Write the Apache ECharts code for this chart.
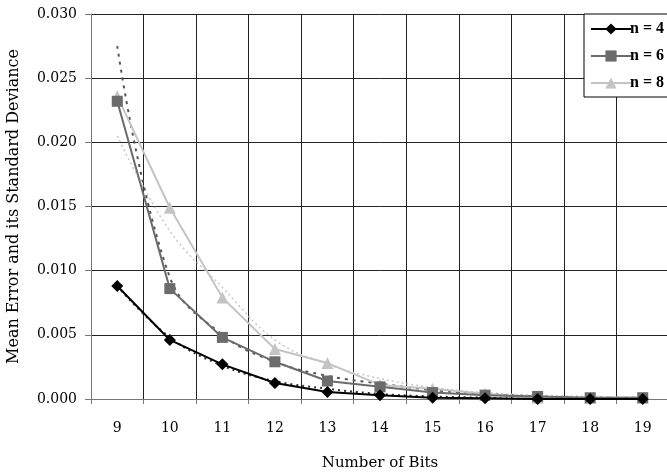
<!DOCTYPE html>
<html>
<head>
<meta charset="utf-8">
<script src="https://cdn.jsdelivr.net/npm/echarts@6/dist/echarts.min.js"></script>
<style>
  html, body { margin: 0; padding: 0; background: #fff; }
  #chart { width: 667px; height: 473px; }
</style>
</head>
<body>
<div id="chart"></div>
<script>
// number of bits on the x axis
const bits = ['9', '10', '11', '12', '13', '14', '15', '16', '17', '18', '19'];

// measured mean error per n
const n4 = [0.0088, 0.0046, 0.0027, 0.00125, 0.00055, 0.0003, 0.0001, 0.00005, 0, 0, 0];
const n6 = [0.0232, 0.0086, 0.0048, 0.0029, 0.0014, 0.00095, 0.0005, 0.0003, 0.0002, 0.0001, 0.0001];
const n8 = [0.0236, 0.0149, 0.0079, 0.0039, 0.0028, 0.0011, 0.0008, 0.0004, 0.0001, 0.0001, 0.0001];

// trend (dotted) lines
const trend4 = [0.0088, 0.0048, 0.0026, 0.0014, 0.0008, 0.0004, 0.0002, 0.0001, 0, 0, 0];
const trend6 = [0.0275, 0.0095, 0.0050, 0.0029, 0.0018, 0.0012, 0.0007, 0.0004, 0.0002, 0.0001, 0.0001];
const trend8 = [0.0205, 0.0131, 0.0087, 0.0046, 0.0027, 0.0016, 0.0009, 0.0005, 0.0003, 0.0002, 0.0001];

const serif = '"DejaVu Serif", "Liberation Serif", serif';
const times = '"Liberation Serif", serif';

let chart = echarts.init(document.getElementById('chart'));

let options = {
  animation: false,
  backgroundColor: '#fff',
  grid: {
    left: 91,
    top: 14,
    width: 578,
    height: 385,
    outerBoundsMode: 'none'
  },
  legend: {
    orient: 'vertical',
    left: 584,
    top: 14,
    padding: [7, 30, 6, 6],
    itemWidth: 40,
    itemHeight: 14,
    itemGap: 11,
    borderColor: '#000',
    borderWidth: 1,
    backgroundColor: '#fff',
    textStyle: { fontFamily: times, fontSize: 16, fontWeight: 'bold', color: '#000', padding: [0, 0, 0, -6] },
    data: ['n = 4', 'n = 6', 'n = 8']
  },
  xAxis: {
    type: 'category',
    data: bits,
    boundaryGap: true,
    name: 'Number of Bits',
    nameLocation: 'middle',
    nameGap: 57,
    nameTextStyle: { fontFamily: serif, fontSize: 15, color: '#000' },
    axisLine: { lineStyle: { color: '#777', width: 1 } },
    axisTick: { show: true, length: 5, lineStyle: { color: '#777' } },
    axisLabel: { fontFamily: serif, fontSize: 14, color: '#000', margin: 22 },
    splitLine: { show: true, lineStyle: { color: '#222', width: 1 } }
  },
  yAxis: {
    type: 'value',
    min: 0,
    max: 0.03,
    interval: 0.005,
    name: 'Mean Error and its Standard Deviance',
    nameLocation: 'middle',
    nameGap: 69,
    nameTextStyle: { fontFamily: serif, fontSize: 16, color: '#000' },
    axisLine: { show: true, lineStyle: { color: '#777', width: 1 } },
    axisTick: { show: true, length: 6, lineStyle: { color: '#777' } },
    axisLabel: {
      fontFamily: serif, fontSize: 14, color: '#000', margin: 14,
      formatter: v => v.toFixed(3)
    },
    splitLine: { show: true, lineStyle: { color: '#222', width: 1 } }
  },
  series: [
    {
      name: 'trend8', type: 'line', data: trend8, smooth: 0.4, showSymbol: false, silent: true,
      lineStyle: { color: '#c8c8c8', width: 1.5, type: [2, 3] }, z: 1
    },
    {
      name: 'trend6', type: 'line', data: trend6, smooth: 0.4, showSymbol: false, silent: true,
      lineStyle: { color: '#555', width: 2, type: [3, 5] }, z: 1
    },
    {
      name: 'trend4', type: 'line', data: trend4, smooth: 0.4, showSymbol: false, silent: true,
      lineStyle: { color: '#333', width: 2, type: [2, 4] }, z: 1
    },
    {
      name: 'n = 8', type: 'line', data: n8,
      symbol: 'triangle', symbolSize: 12,
      itemStyle: { color: '#c4c4c4' },
      lineStyle: { color: '#c4c4c4', width: 2 }, z: 3
    },
    {
      name: 'n = 6', type: 'line', data: n6,
      symbol: 'rect', symbolSize: 11,
      itemStyle: { color: '#6b6b6b' },
      lineStyle: { color: '#6b6b6b', width: 2 }, z: 4
    },
    {
      name: 'n = 4', type: 'line', data: n4,
      symbol: 'diamond', symbolSize: 12,
      itemStyle: { color: '#000' },
      lineStyle: { color: '#000', width: 2 }, z: 5
    }
  ]
};

chart.setOption(options);
</script>
</body>
</html>
